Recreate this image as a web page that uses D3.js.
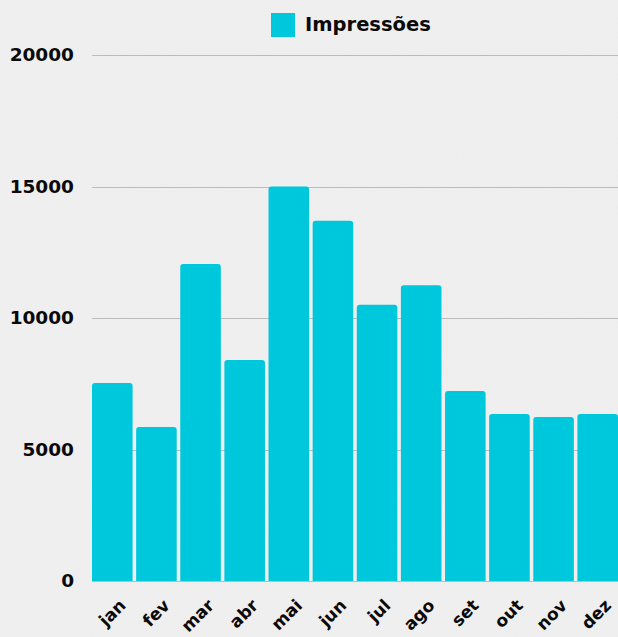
<!DOCTYPE html>
<html>
<head>
<meta charset="utf-8">
<script src="https://cdn.jsdelivr.net/npm/d3@7"></script>
<style>
  body { margin: 0; background: #f0f0f0; }
  svg { display: block; }
</style>
</head>
<body>
<script>
var meses = ['jan', 'fev', 'mar', 'abr', 'mai', 'jun', 'jul', 'ago', 'set', 'out', 'nov', 'dez'];
var impressoes = [7530, 5860, 12050, 8400, 15000, 13700, 10500, 11250, 7220, 6350, 6240, 6350];
var yTicks = [0, 5000, 10000, 15000, 20000];
var serieNome = 'Impressões';

var width = 618, height = 637;
var margin = {top: 55, right: 0, bottom: 56, left: 92};
var cor = '#00c8dc';
var fonte = '"DejaVu Sans", sans-serif';

var svg = d3.select('body').append('svg')
  .attr('width', width)
  .attr('height', height);

// fundo texturizado
var defs = svg.append('defs');
var filtro = defs.append('filter').attr('id', 'ruido');
filtro.append('feTurbulence')
  .attr('type', 'fractalNoise')
  .attr('baseFrequency', 0.9)
  .attr('numOctaves', 2)
  .attr('seed', 3);
filtro.append('feColorMatrix')
  .attr('type', 'matrix')
  .attr('values', '0 0 0 0 0.5  0 0 0 0 0.5  0 0 0 0 0.5  0 0 0 0.05 0');
svg.append('rect').attr('width', width).attr('height', height).attr('fill', '#f0f0f0');
svg.append('rect').attr('width', width).attr('height', height).attr('filter', 'url(#ruido)');

var x = d3.scaleBand()
  .domain(meses)
  .range([margin.left, 618])
  .paddingInner(0.08)
  .paddingOuter(0);

var y = d3.scaleLinear()
  .domain([0, 20000])
  .range([height - margin.bottom, margin.top]);

// grade
svg.append('g')
  .selectAll('line')
  .data(yTicks)
  .enter()
    .append('line')
    .attr('x1', margin.left)
    .attr('x2', width)
    .attr('y1', function(d){ return Math.round(y(d)) + 0.5; })
    .attr('y2', function(d){ return Math.round(y(d)) + 0.5; })
    .attr('stroke', '#bcbcbc')
    .attr('stroke-width', 1);

// eixo y
var eixoY = svg.append('g')
  .attr('transform', 'translate(' + (margin.left - 18) + ',0)')
  .call(d3.axisLeft(y).tickValues(yTicks).tickSize(0).tickPadding(0).tickFormat(d3.format('d')));
eixoY.select('.domain').remove();
eixoY.selectAll('text')
  .attr('font-family', fonte)
  .attr('font-weight', 'bold')
  .attr('font-size', 18.5)
  .attr('fill', '#0a0a0a');

// barras com cantos superiores arredondados
var r = 3;
svg.append('g')
  .selectAll('path')
  .data(impressoes)
  .enter()
    .append('path')
    .attr('fill', cor)
    .attr('d', function(d, i){
      var x0 = x(meses[i]), w = x.bandwidth();
      var y0 = y(d), yb = y(0);
      return 'M' + x0 + ',' + yb +
        'V' + (y0 + r) +
        'Q' + x0 + ',' + y0 + ' ' + (x0 + r) + ',' + y0 +
        'H' + (x0 + w - r) +
        'Q' + (x0 + w) + ',' + y0 + ' ' + (x0 + w) + ',' + (y0 + r) +
        'V' + yb + 'Z';
    });

// eixo x
var eixoX = svg.append('g')
  .attr('transform', 'translate(0,' + y(0) + ')')
  .call(d3.axisBottom(x).tickSize(0).tickPadding(0));
eixoX.select('.domain').remove();
eixoX.selectAll('text')
  .attr('font-family', fonte)
  .attr('font-weight', 'bold')
  .attr('font-size', 17)
  .attr('fill', '#0a0a0a')
  .attr('text-anchor', 'end')
  .attr('dy', null)
  .attr('y', 0)
  .attr('transform', 'translate(11,22) rotate(-45)')
  .attr('dominant-baseline', 'middle');

// legenda
var leg = svg.append('g');
leg.append('rect')
  .attr('x', 271).attr('y', 13)
  .attr('width', 24).attr('height', 24)
  .attr('fill', cor);
leg.append('text')
  .attr('x', 305).attr('y', 31)
  .attr('font-family', fonte)
  .attr('font-weight', 'bold')
  .attr('font-size', 19.5)
  .attr('fill', '#0a0a0a')
  .text(serieNome);
</script>
</body>
</html>
